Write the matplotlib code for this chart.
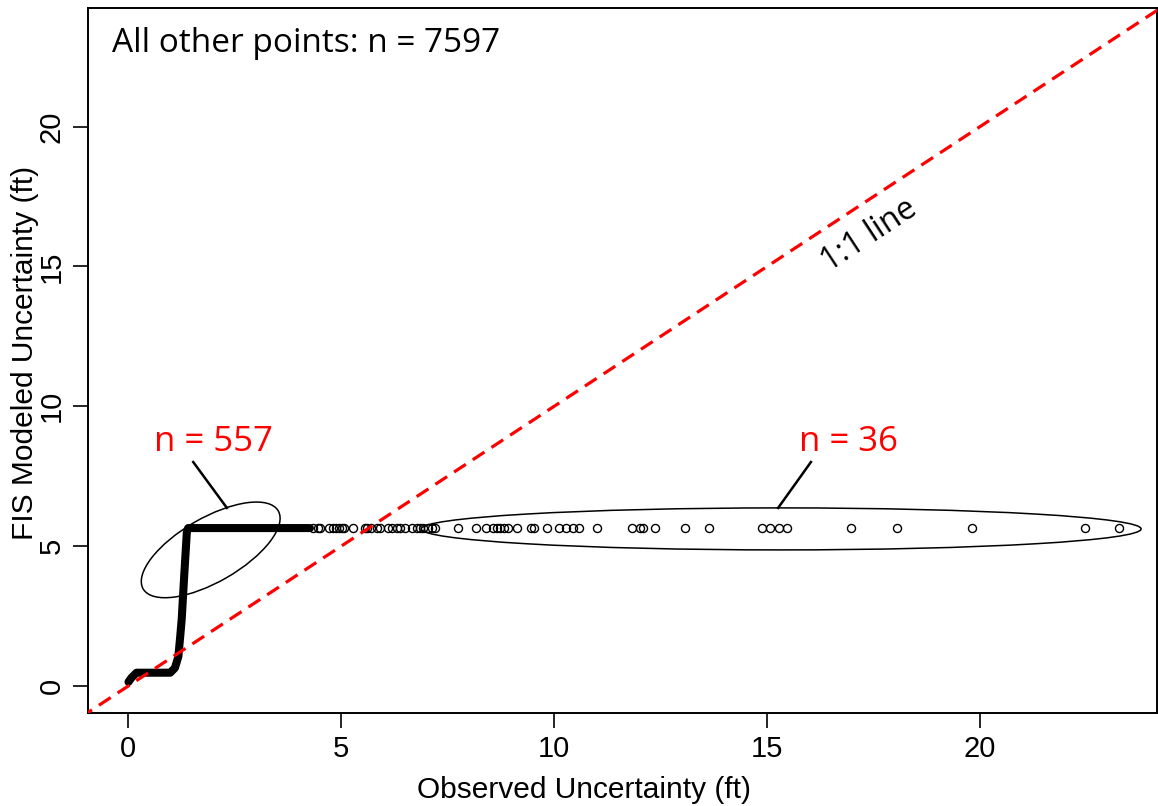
import matplotlib
matplotlib.use("Agg")
import matplotlib.pyplot as plt
from matplotlib.patches import Ellipse
from matplotlib.transforms import ScaledTranslation

# dense part of the point cloud (traced as a path through the overlapping circles)
curve_x = [0.01, 0.08, 0.20, 0.60, 0.99, 1.10, 1.18, 1.22, 1.26, 1.32, 1.38, 1.41, 2.0, 3.0, 4.27]
curve_y = [0.15, 0.30, 0.48, 0.48, 0.48, 0.65, 1.05, 1.70, 2.40, 4.00, 5.50, 5.65, 5.65, 5.65, 5.65]

# individual points along the plateau
sparse_x = [4.34, 4.46, 4.51, 4.72, 4.80, 4.88, 4.95, 5.02, 5.08, 5.28, 5.56, 5.62, 5.70,
            5.84, 5.92, 6.10, 6.20, 6.31, 6.38, 6.50, 6.67, 6.78, 6.85, 6.92, 7.04]
outlier_x = [7.14, 7.20, 7.75, 8.17, 8.40, 8.57, 8.66, 8.73, 8.83, 8.92, 9.13, 9.46, 9.53,
             9.84, 10.12, 10.28, 10.45, 10.59, 11.00, 11.83, 12.02, 12.09, 12.37, 13.08,
             13.64, 14.88, 15.07, 15.28, 15.47, 16.97, 18.05, 19.81, 22.46, 23.26]
plateau_y = 5.65

xlim = (-0.94, 24.15)
ylim = (-0.96, 24.24)
ticks = [0, 5, 10, 15, 20]

axis_font = ["Liberation Sans", "DejaVu Sans"]
note_font = ["Open Sans", "DejaVu Sans"]

fig = plt.figure(figsize=(11.58, 8.06), dpi=100)
ax = fig.add_axes([0.076, 0.1154, 0.923, 0.8747])

ax.plot(curve_x, curve_y, color="black", lw=5.8, solid_capstyle="round",
        solid_joinstyle="round", zorder=3)
ax.plot(sparse_x + outlier_x, [plateau_y] * (len(sparse_x) + len(outlier_x)),
        ls="none", marker="o", ms=5.8, mfc="none", mec="black", mew=1.0, zorder=3)

# 1:1 reference line
ax.plot([-2, 26], [-2, 26], color="#ff0000", ls=(0, (4.4, 2.6)), lw=2.3, zorder=4)

# ellipses drawn in inches so they keep their shape on the unequal axes
e1 = Ellipse((0, 0), 1.56, 0.64, angle=30, fill=False, ec="black", lw=1.1,
             transform=fig.dpi_scale_trans + ScaledTranslation(1.94, 4.87, ax.transData))
e2 = Ellipse((0, 0), 7.20, 0.42, angle=0, fill=False, ec="black", lw=1.1,
             transform=fig.dpi_scale_trans + ScaledTranslation(15.33, 5.62, ax.transData))
ax.add_patch(e1)
ax.add_patch(e2)

ax.plot([1.53, 2.32], [8.01, 6.37], color="black", lw=1.8)
ax.plot([16.03, 15.26], [8.01, 6.37], color="black", lw=1.8)

ax.text(2.0, 8.73, "n = 557", color="#ff0000", fontsize=25, ha="center", va="center",
        family=note_font)
ax.text(16.9, 8.73, "n = 36", color="#ff0000", fontsize=25, ha="center", va="center",
        family=note_font)
ax.text(17.4, 16.1, "1:1 line", color="black", fontsize=23, ha="center", va="center",
        rotation=33.3, family=note_font)
ax.text(0.0225, 0.950, "All other points: n = 7597", transform=ax.transAxes,
        fontsize=24, ha="left", va="center", family=note_font)

ax.set_xlim(*xlim)
ax.set_ylim(*ylim)
ax.set_xticks(ticks)
ax.set_yticks(ticks)
ax.set_xticklabels([str(t) for t in ticks], fontsize=21, family=axis_font)
ax.set_yticklabels([str(t) for t in ticks], fontsize=21, rotation=90, va="center",
                   family=axis_font)
ax.tick_params(direction="out", length=11, width=1.2, pad=5)
for s in ax.spines.values():
    s.set_linewidth(1.4)

ax.set_xlabel("Observed Uncertainty (ft)", fontsize=21.5, family=axis_font)
ax.set_ylabel("FIS Modeled Uncertainty (ft)", fontsize=21.5, family=axis_font)
ax.xaxis.set_label_coords(0.464, -0.109)
ax.yaxis.set_label_coords(-0.059, 0.51)
ax.xaxis.label.set_va("center")
ax.yaxis.label.set_va("center")

fig.savefig("out.png", dpi=100)
